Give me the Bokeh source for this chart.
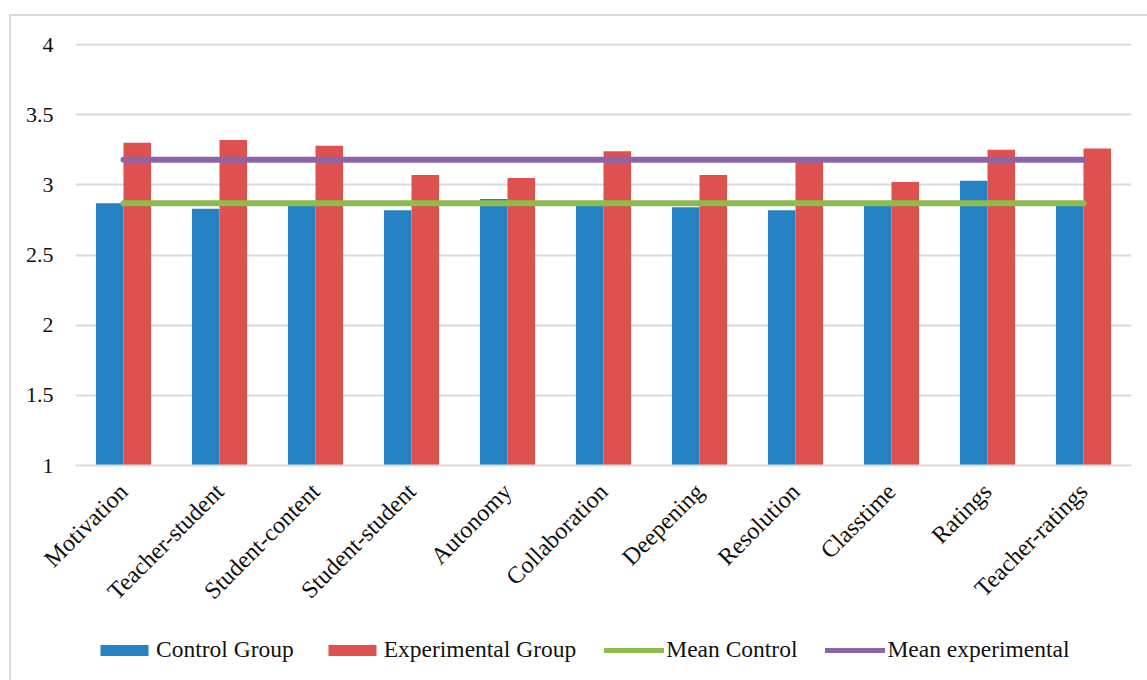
from math import pi
from bokeh.plotting import figure
from bokeh.layouts import column
from bokeh.models import FactorRange, Range1d, ColumnDataSource, Legend, LegendItem, FixedTicker
from bokeh.transform import dodge
from bokeh.embed import file_html
from bokeh.resources import INLINE

categories = ["Motivation", "Teacher-student", "Student-content", "Student-student", "Autonomy",
              "Collaboration", "Deepening", "Resolution", "Classtime", "Ratings", "Teacher-ratings"]
control = [2.87, 2.83, 2.86, 2.82, 2.90, 2.86, 2.84, 2.82, 2.87, 3.03, 2.87]
experimental = [3.30, 3.32, 3.28, 3.07, 3.05, 3.24, 3.07, 3.18, 3.02, 3.25, 3.26]
mean_control = 2.87
mean_experimental = 3.18
y_ticks = [1, 1.5, 2, 2.5, 3, 3.5, 4]
series_names = ["Control Group", "Experimental Group", "Mean Control", "Mean experimental"]

FONT = "Liberation Serif"
BLUE = "#2583C4"
RED = "#DF514F"
GREEN = "#8CBB4E"
PURPLE = "#8D65A6"
GRID = "#D9D9D9"
TEXT = "#111111"

src = ColumnDataSource(dict(cat=categories, control=control, experimental=experimental))

p = figure(x_range=FactorRange(*categories, range_padding=0), y_range=Range1d(1, 4.008),
           width=1136, height=600, output_backend="svg", toolbar_location=None,
           min_border_left=64, min_border_right=16, min_border_top=27, min_border_bottom=151)
p.outline_line_color = None
p.background_fill_color = "white"
p.border_fill_color = "white"

w = 0.287
p.vbar(x=dodge("cat", -w / 2, range=p.x_range), top="control", bottom=1, width=w,
       source=src, fill_color=BLUE, line_color=None)
p.vbar(x=dodge("cat", w / 2, range=p.x_range), top="experimental", bottom=1, width=w,
       source=src, fill_color=RED, line_color=None)
p.line(x=categories, y=[mean_control] * len(categories), line_color=GREEN, line_width=6,
       line_cap="round")
p.line(x=categories, y=[mean_experimental] * len(categories), line_color=PURPLE, line_width=6,
       line_cap="round")

p.xgrid.grid_line_color = None
p.ygrid.grid_line_color = GRID
p.ygrid.grid_line_width = 2
p.yaxis.ticker = FixedTicker(ticks=y_ticks)
p.yaxis.axis_line_color = None
p.yaxis.major_tick_line_color = None
p.yaxis.minor_tick_line_color = None
p.yaxis.major_tick_out = 0
p.yaxis.major_label_standoff = 22
p.yaxis.major_label_text_font_size = "22px"
p.xaxis.axis_line_color = GRID
p.xaxis.axis_line_width = 2
p.xaxis.major_tick_line_color = None
p.xaxis.major_tick_out = 0
p.xaxis.major_label_orientation = pi / 4
p.xaxis.major_label_standoff = 22
p.xaxis.major_label_text_font_size = "24px"
for ax in (p.xaxis, p.yaxis):
    ax.major_label_text_font = FONT
    ax.major_label_text_color = TEXT

# legend strip below the chart (its frame is aligned with the chart's frame by the column)
leg = figure(width=1136, height=64, output_backend="svg", toolbar_location=None,
             x_range=Range1d(0, 1), y_range=Range1d(0, 1),
             x_axis_location=None, y_axis_location=None,
             min_border_left=64, min_border_right=16, min_border_top=0, min_border_bottom=0)
leg.outline_line_color = None
leg.xgrid.grid_line_color = None
leg.ygrid.grid_line_color = None
leg.background_fill_color = "white"
leg.border_fill_color = "white"
# legend-only proxies, kept outside the strip's visible range
l1 = leg.vbar(x=[-5], top=[-5], bottom=[-6], width=0.1, fill_color=BLUE, line_color=None)
l2 = leg.vbar(x=[-5], top=[-5], bottom=[-6], width=0.1, fill_color=RED, line_color=None)
l3 = leg.line(x=[-6, -5], y=[-5, -5], line_color=GREEN, line_width=5, line_cap="round")
l4 = leg.line(x=[-6, -5], y=[-5, -5], line_color=PURPLE, line_width=5, line_cap="round")

legend = Legend(items=[LegendItem(label=n, renderers=[r]) for n, r in zip(series_names, [l1, l2, l3, l4])],
                orientation="horizontal", location=(19, 17), border_line_color=None,
                background_fill_alpha=0, glyph_width=60, glyph_height=14,
                label_standoff=2, spacing=28, margin=0, padding=0,
                label_text_font=FONT, label_text_font_size="23.5px", label_text_color=TEXT)
leg.add_layout(legend)

layout = column(p, leg, spacing=0,
                styles={"margin-left": "9px", "margin-top": "14px",
                        "border-left": "2px solid #D9D9D9", "border-top": "2px solid #D9D9D9"})

open("out.html", "w").write(file_html(layout, INLINE))
